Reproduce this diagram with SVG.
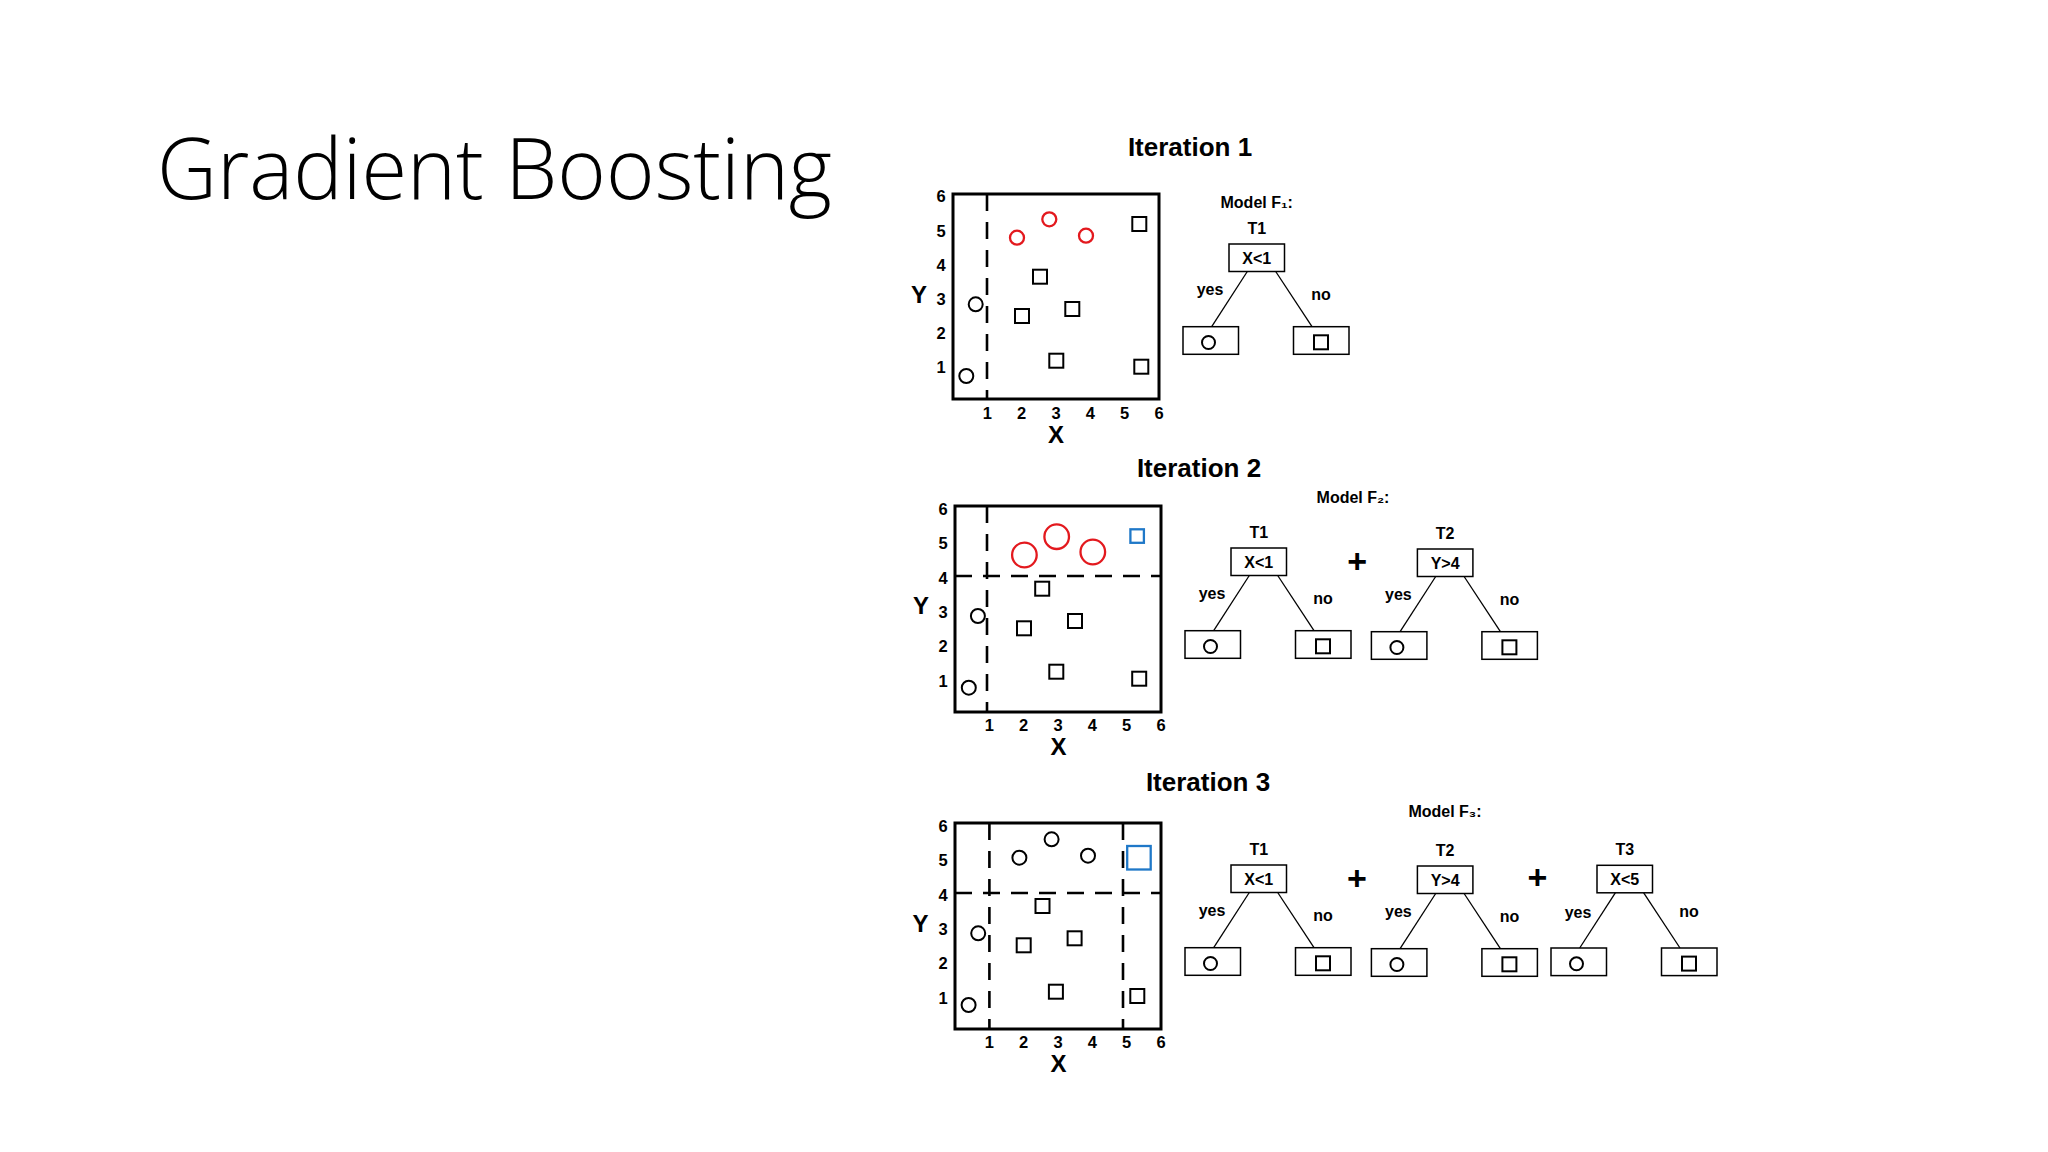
<svg xmlns="http://www.w3.org/2000/svg" width="2048" height="1152" viewBox="0 0 2048 1152">
<style>
.bg{fill:#fff}
.frame{fill:none;stroke:#000;stroke-width:3}
.dash{fill:none;stroke:#000;stroke-width:2.6;stroke-dasharray:17 11}
.pt{fill:none;stroke:#000;stroke-width:2}
.red{fill:none;stroke:#e3191e;stroke-width:2.3}
.blue{fill:none;stroke:#1f78c8;stroke-width:2.3}
.box{fill:#fff;stroke:#000;stroke-width:1.5}
.edge{fill:none;stroke:#000;stroke-width:1.3}
.t{font-family:"Liberation Sans",Arial,sans-serif;font-weight:bold;fill:#000;text-anchor:middle}
.tick{font-size:16.5px}
.ax{font-size:24px}
.it{font-size:26px}
.lab{font-size:16px}
.plus{font-size:34px}
.title{font-family:"Open Sans","Liberation Sans",sans-serif;font-weight:300;font-size:85px;fill:#000}
</style>
<rect class="bg" x="0" y="0" width="2048" height="1152"/>
<text class="title" x="157" y="198.5" textLength="675" lengthAdjust="spacingAndGlyphs">Gradient Boosting</text>

<g id="iteration1">
<text class="t it" x="1190" y="156">Iteration 1</text>
<g id="plot1">
<rect class="frame" x="953" y="194" width="206" height="205"/>
<line class="dash" x1="987" y1="194" x2="987" y2="399"/>
<circle class="red" cx="1017" cy="237.7" r="7"/>
<circle class="red" cx="1049.3" cy="219.3" r="7"/>
<circle class="red" cx="1086" cy="235.7" r="7"/>
<circle class="pt" cx="975.7" cy="304.3" r="7"/>
<circle class="pt" cx="966.3" cy="376" r="7"/>
<rect class="pt" x="1132.3" y="217" width="14" height="14"/>
<rect class="pt" x="1033" y="269.7" width="14" height="14"/>
<rect class="pt" x="1015" y="309" width="14" height="14"/>
<rect class="pt" x="1065.3" y="302" width="14" height="14"/>
<rect class="pt" x="1049.3" y="353.7" width="14" height="14"/>
<rect class="pt" x="1134.3" y="359.7" width="14" height="14"/>
<g class="t tick">
<text x="941" y="373.3">1</text><text x="941" y="339.1">2</text><text x="941" y="304.9">3</text><text x="941" y="270.7">4</text><text x="941" y="236.5">5</text><text x="941" y="202.3">6</text>
<text x="987.3" y="418.5">1</text><text x="1021.7" y="418.5">2</text><text x="1056" y="418.5">3</text><text x="1090.3" y="418.5">4</text><text x="1124.7" y="418.5">5</text><text x="1159" y="418.5">6</text>
</g>
<text class="t ax" x="919" y="303">Y</text>
<text class="t ax" x="1056" y="443">X</text>
</g>
<text class="t lab" x="1256.7" y="207.5">Model F₁:</text>
<g id="it1-T1">
<text class="t lab" x="1256.75" y="234">T1</text>
<rect class="box" x="1229" y="244" width="55.5" height="27.5"/>
<text class="t lab" x="1256.75" y="263.5">X&lt;1</text>
<rect class="box" x="1183" y="326.7" width="55.5" height="27.6"/>
<circle class="pt" cx="1208.5" cy="342.5" r="6.5"/>
<rect class="box" x="1293.5" y="326.7" width="55.5" height="27.6"/>
<rect class="pt" x="1314" y="335.3" width="14" height="14"/>
<text class="t lab" x="1210" y="295">yes</text>
<text class="t lab" x="1321" y="300">no</text>
</g>
</g>

<g id="iteration2">
<text class="t it" x="1199" y="477">Iteration 2</text>
<g id="plot2">
<rect class="frame" x="955" y="506" width="206" height="206"/>
<line class="dash" x1="987" y1="506" x2="987" y2="712"/>
<line class="dash" x1="955" y1="576" x2="1161" y2="576"/>
<circle class="red" cx="1024.4" cy="555" r="12.3"/>
<circle class="red" cx="1056.7" cy="536.7" r="12.3"/>
<circle class="red" cx="1092.8" cy="552" r="12.3"/>
<rect class="blue" x="1130.4" y="529.3" width="13.5" height="13.5"/>
<circle class="pt" cx="977.9" cy="616" r="7"/>
<circle class="pt" cx="968.8" cy="687.7" r="7"/>
<rect class="pt" x="1035.2" y="581.7" width="14" height="14"/>
<rect class="pt" x="1017" y="621.3" width="14" height="14"/>
<rect class="pt" x="1068" y="614" width="14" height="14"/>
<rect class="pt" x="1049.3" y="664.7" width="14" height="14"/>
<rect class="pt" x="1132.2" y="671.7" width="14" height="14"/>
<g class="t tick">
<text x="943" y="686.5">1</text><text x="943" y="652.1">2</text><text x="943" y="617.8">3</text><text x="943" y="583.5">4</text><text x="943" y="549.1">5</text><text x="943" y="514.8">6</text>
<text x="989.3" y="730.5">1</text><text x="1023.7" y="730.5">2</text><text x="1058" y="730.5">3</text><text x="1092.3" y="730.5">4</text><text x="1126.7" y="730.5">5</text><text x="1161" y="730.5">6</text>
</g>
<text class="t ax" x="921" y="614">Y</text>
<text class="t ax" x="1058.5" y="755">X</text>
</g>
<text class="t lab" x="1353" y="503">Model F₂:</text>
<g id="it2-T1">
<text class="t lab" x="1258.75" y="538">T1</text>
<rect class="box" x="1231" y="548" width="55.5" height="27.5"/>
<text class="t lab" x="1258.75" y="567.5">X&lt;1</text>
<rect class="box" x="1185" y="630.7" width="55.5" height="27.6"/>
<circle class="pt" cx="1210.5" cy="646.5" r="6.5"/>
<rect class="box" x="1295.5" y="630.7" width="55.5" height="27.6"/>
<rect class="pt" x="1316" y="639.3" width="14" height="14"/>
<text class="t lab" x="1212" y="599">yes</text>
<text class="t lab" x="1323" y="604">no</text>
</g>
<text class="t plus" x="1357.3" y="573">+</text>
<g id="it2-T2">
<text class="t lab" x="1445.15" y="539">T2</text>
<rect class="box" x="1417.4" y="549" width="55.5" height="27.5"/>
<text class="t lab" x="1445.15" y="568.5">Y&gt;4</text>
<rect class="box" x="1371.4" y="631.7" width="55.5" height="27.6"/>
<circle class="pt" cx="1396.9" cy="647.5" r="6.5"/>
<rect class="box" x="1481.9" y="631.7" width="55.5" height="27.6"/>
<rect class="pt" x="1502.4" y="640.3" width="14" height="14"/>
<text class="t lab" x="1398.4" y="600">yes</text>
<text class="t lab" x="1509.4" y="605">no</text>
</g>
</g>

<g id="iteration3">
<text class="t it" x="1208" y="790.5">Iteration 3</text>
<g id="plot3">
<rect class="frame" x="955" y="823" width="206" height="206"/>
<line class="dash" x1="989.4" y1="823" x2="989.4" y2="1029"/>
<line class="dash" x1="1123" y1="823" x2="1123" y2="1029"/>
<line class="dash" x1="955" y1="893" x2="1161" y2="893"/>
<circle class="pt" cx="1051.6" cy="839.3" r="7"/>
<circle class="pt" cx="1019.4" cy="857.7" r="7"/>
<circle class="pt" cx="1088" cy="855.7" r="7"/>
<circle class="pt" cx="978.2" cy="933.3" r="7"/>
<circle class="pt" cx="968.6" cy="1005" r="7"/>
<rect class="blue" x="1127.2" y="846" width="23.5" height="23.5"/>
<rect class="pt" x="1035.5" y="899" width="14" height="14"/>
<rect class="pt" x="1016.7" y="938.3" width="14" height="14"/>
<rect class="pt" x="1067.6" y="931.3" width="14" height="14"/>
<rect class="pt" x="1048.9" y="984.7" width="14" height="14"/>
<rect class="pt" x="1130.3" y="989" width="14" height="14"/>
<g class="t tick">
<text x="943" y="1003.7">1</text><text x="943" y="969.3">2</text><text x="943" y="935">3</text><text x="943" y="900.7">4</text><text x="943" y="866.3">5</text><text x="943" y="832">6</text>
<text x="989.3" y="1047.5">1</text><text x="1023.7" y="1047.5">2</text><text x="1058" y="1047.5">3</text><text x="1092.3" y="1047.5">4</text><text x="1126.7" y="1047.5">5</text><text x="1161" y="1047.5">6</text>
</g>
<text class="t ax" x="920.5" y="932">Y</text>
<text class="t ax" x="1058.5" y="1072">X</text>
</g>
<text class="t lab" x="1445" y="817">Model F₃:</text>
<g id="it3-T1">
<text class="t lab" x="1258.75" y="855">T1</text>
<rect class="box" x="1231" y="865" width="55.5" height="27.5"/>
<text class="t lab" x="1258.75" y="884.5">X&lt;1</text>
<rect class="box" x="1185" y="947.7" width="55.5" height="27.6"/>
<circle class="pt" cx="1210.5" cy="963.5" r="6.5"/>
<rect class="box" x="1295.5" y="947.7" width="55.5" height="27.6"/>
<rect class="pt" x="1316" y="956.3" width="14" height="14"/>
<text class="t lab" x="1212" y="916">yes</text>
<text class="t lab" x="1323" y="921">no</text>
</g>
<text class="t plus" x="1357" y="890">+</text>
<g id="it3-T2">
<text class="t lab" x="1445.15" y="856">T2</text>
<rect class="box" x="1417.4" y="866" width="55.5" height="27.5"/>
<text class="t lab" x="1445.15" y="885.5">Y&gt;4</text>
<rect class="box" x="1371.4" y="948.7" width="55.5" height="27.6"/>
<circle class="pt" cx="1396.9" cy="964.5" r="6.5"/>
<rect class="box" x="1481.9" y="948.7" width="55.5" height="27.6"/>
<rect class="pt" x="1502.4" y="957.3" width="14" height="14"/>
<text class="t lab" x="1398.4" y="917">yes</text>
<text class="t lab" x="1509.4" y="922">no</text>
</g>
<text class="t plus" x="1537.4" y="889">+</text>
<g id="it3-T3">
<text class="t lab" x="1624.75" y="855">T3</text>
<rect class="box" x="1597" y="865.3" width="55.5" height="27.5"/>
<text class="t lab" x="1624.75" y="884.8">X&lt;5</text>
<rect class="box" x="1551" y="948" width="55.5" height="27.6"/>
<circle class="pt" cx="1576.5" cy="963.8" r="6.5"/>
<rect class="box" x="1661.5" y="948" width="55.5" height="27.6"/>
<rect class="pt" x="1682" y="956.6" width="14" height="14"/>
<text class="t lab" x="1578" y="918">yes</text>
<text class="t lab" x="1689" y="917">no</text>
</g>
</g>

<g id="connectors">
<line class="edge" x1="1247.3" y1="271.5" x2="1211.7" y2="326.7"/>
<line class="edge" x1="1275.7" y1="271.5" x2="1312" y2="326.7"/>
<line class="edge" x1="1249.3" y1="575.5" x2="1213.7" y2="630.7"/>
<line class="edge" x1="1277.7" y1="575.5" x2="1314" y2="630.7"/>
<line class="edge" x1="1435.7" y1="576.5" x2="1400.1" y2="631.7"/>
<line class="edge" x1="1464.1" y1="576.5" x2="1500.4" y2="631.7"/>
<line class="edge" x1="1249.3" y1="892.5" x2="1213.7" y2="947.7"/>
<line class="edge" x1="1277.7" y1="892.5" x2="1314" y2="947.7"/>
<line class="edge" x1="1435.7" y1="893.5" x2="1400.1" y2="948.7"/>
<line class="edge" x1="1464.1" y1="893.5" x2="1500.4" y2="948.7"/>
<line class="edge" x1="1615.3" y1="892.8" x2="1579.7" y2="948"/>
<line class="edge" x1="1643.7" y1="892.8" x2="1680" y2="948"/>
</g>
</svg>
